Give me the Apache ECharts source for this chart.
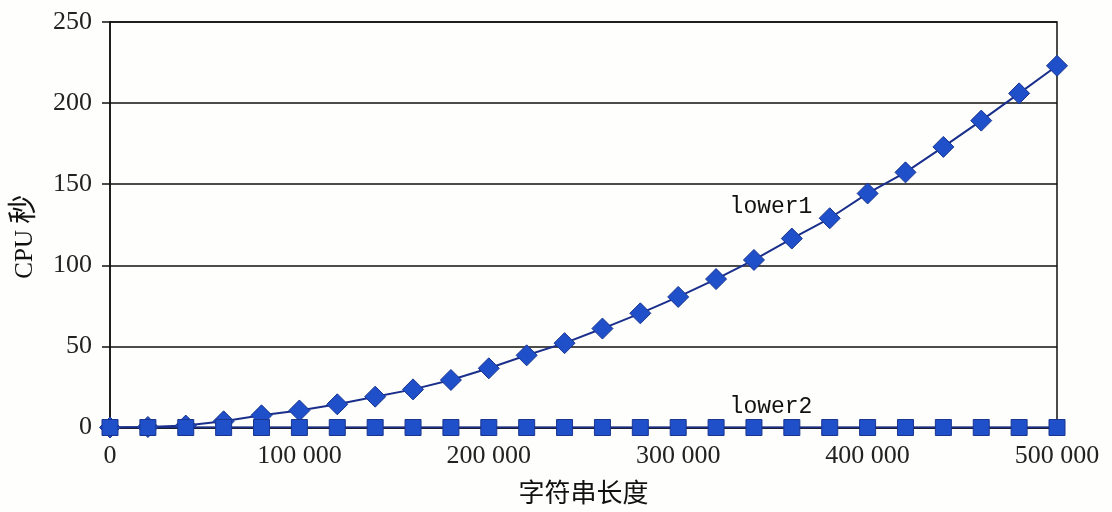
<!DOCTYPE html>
<html>
<head>
<meta charset="utf-8">
<script src="https://cdn.jsdelivr.net/npm/echarts@6/dist/echarts.min.js"></script>
<style>
html,body{margin:0;padding:0;background:#fefefc;overflow:hidden;}
#chart{width:1112px;height:512px;}
</style>
</head>
<body>
<div id="chart"></div>
<script>
const lengths = [0,20000,40000,60000,80000,100000,120000,140000,160000,180000,200000,220000,240000,260000,280000,300000,320000,340000,360000,380000,400000,420000,440000,460000,480000,500000];
const lower1 = [0,0.3,1.2,3.8,7.5,10.5,14.3,19,23.5,29.3,36.5,44.5,52,61,70.4,80.5,91.5,103.3,116.5,129,144.3,157.3,173,189.2,206,223];
const lower2 = [0,0,0,0,0,0,0,0,0,0,0,0,0,0,0,0,0,0,0,0,0,0,0,0,0,0];
const seriesNames = ['lower1','lower2'];
const labelCoords = [[349000,136],[349000,13]];
const yTicks = [0,50,100,150,200,250];
const xTicks = [0,100000,200000,300000,400000,500000];
const yTitleParts = ['CPU','秒'];
const xTitle = '字符串长度';

function fmt(v){ return String(v).replace(/\B(?=(\d{3})+(?!\d))/g,' '); }

const chart = echarts.init(document.getElementById('chart'));
const serif = '"Liberation Serif","Noto Sans CJK SC",serif';
const fill = '#1f4fc9';
const edge = '#1a3590';
const lineC = '#1a2f8c';

function mkSeries(name, data, symbol, size, lc){
  return {
    name: name, type: 'line',
    data: lengths.map((x,i)=>[x,data[i]]),
    symbol: symbol, symbolSize: size,
    itemStyle: {color: fill, borderColor: edge, borderWidth: 1},
    lineStyle: {color: lineC, width: 2},
    markPoint: {
      symbol: 'rect', symbolSize: 1,
      itemStyle: {color: 'transparent'},
      label: {show: true, formatter: name, color: '#111', fontFamily: '"Liberation Mono",monospace', fontSize: 23, position: 'inside'},
      data: [{coord: lc}]
    },
    animation: false
  };
}

chart.setOption({
  backgroundColor: '#fefefc',
  animation: false,
  grid: {left: 110, right: 55, top: 22, bottom: 84.5, show: true, borderColor: '#111', borderWidth: 1.5, outerBoundsMode: 'none', containLabel: false},
  xAxis: {
    type: 'value', min: xTicks[0], max: xTicks[xTicks.length-1], interval: xTicks[1]-xTicks[0],
    name: xTitle, nameLocation: 'middle', nameGap: 55,
    nameTextStyle: {fontFamily: serif, fontSize: 26, color: '#111'},
    axisLine: {show: true, lineStyle: {color: '#111', width: 1.5}},
    axisTick: {show: false},
    splitLine: {show: false},
    axisLabel: {formatter: fmt, fontFamily: serif, fontSize: 26, color: '#222', margin: 16}
  },
  yAxis: {
    type: 'value', min: yTicks[0], max: yTicks[yTicks.length-1], interval: yTicks[1]-yTicks[0],
    name: '{a|' + yTitleParts[0] + '} {b|' + yTitleParts[1] + '}', nameLocation: 'middle', nameGap: 70, nameRotate: 90,
    nameTextStyle: {color: '#111', fontFamily: serif, fontSize: 25, padding: [0,24,0,0],
      rich: {a: {fontFamily: serif, fontSize: 25, color: '#111'}, b: {fontFamily: serif, fontSize: 29, color: '#111'}}},
    axisLine: {show: true, lineStyle: {color: '#111', width: 1.5}},
    axisTick: {show: true, length: 8, lineStyle: {color: '#111', width: 1.5}},
    splitLine: {show: true, lineStyle: {color: '#111', width: 1.5}},
    axisLabel: {fontFamily: serif, fontSize: 26, color: '#222', margin: 18}
  },
  series: [
    mkSeries(seriesNames[0], lower1, 'diamond', 21, labelCoords[0]),
    mkSeries(seriesNames[1], lower2, 'rect', 16, labelCoords[1])
  ]
});
</script>
</body>
</html>
